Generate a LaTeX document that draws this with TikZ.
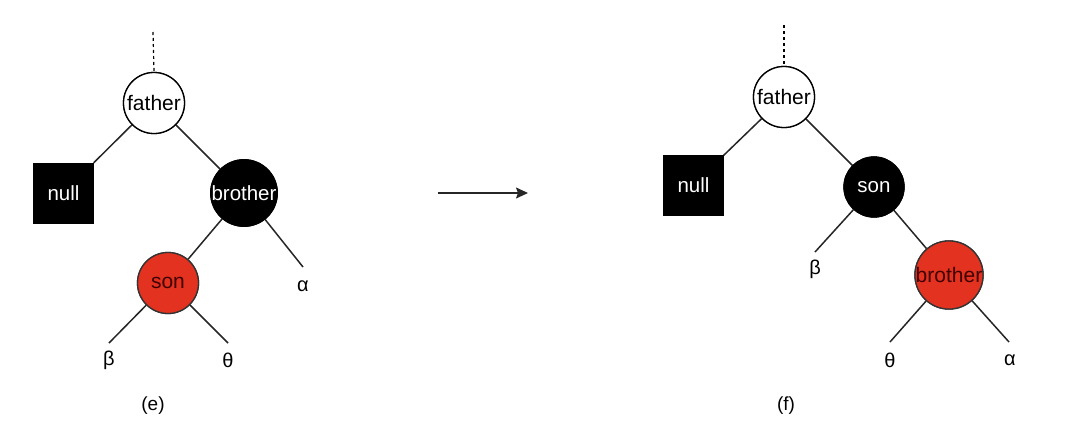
\documentclass[tikz,border=0pt]{standalone}
\usepackage{fontspec}
\setmainfont{Liberation Sans}
\usetikzlibrary{arrows.meta}
\definecolor{rbred}{HTML}{E3321F}
\tikzset{
  edge/.style={line width=1.5pt, draw=black!85},
  wnode/.style={circle, draw=black, line width=1.3pt, fill=white, minimum size=61pt, inner sep=0pt, font=\fontsize{21}{22}\selectfont},
  bnode/.style={circle, draw=black, line width=1.3pt, fill=black, text=white, minimum size=60pt, inner sep=0pt, font=\fontsize{20.5}{22}\selectfont},
  rnode/.style={circle, draw=black!80, line width=1.3pt, fill=rbred, text=black!75!red, minimum size=61pt, inner sep=0pt, font=\fontsize{21}{22}\selectfont},
  nullbox/.style={rectangle, draw=black, fill=black, text=white, minimum size=60pt, inner sep=0pt, font=\fontsize{20.5}{22}\selectfont},
  lbl/.style={inner sep=0pt, font=\fontsize{20}{22}\selectfont},
  caption/.style={inner sep=0pt, font=\fontsize{19}{22}\selectfont},
  dashlink/.style={line width=1.2pt, dash pattern=on 3pt off 3pt}
}
\begin{document}
\begin{tikzpicture}[x=1pt,y=-1pt]
\useasboundingbox (0,0) rectangle (1086,426);
% ---------- left tree (e) ----------
\coordinate (lTop) at (153,32);
\node[wnode] (lf) at (154,103) {father};
\node[nullbox] (ln) at (63.5,193) {null};
\node[bnode] (lb) at (244,193) {brother};
\node[rnode] (ls) at (168,283) {son};
\coordinate (laE) at (303,267);
\coordinate (lbE) at (109,343);
\coordinate (ltE) at (228,343);
\node[lbl] (la) at (303,286) {α};
\node[lbl] (lbeta) at (109,360) {β};
\node[lbl] (ltheta) at (228,360) {θ};
\node[caption] (le) at (153,406) {(e)};
\draw[dashlink] (lTop) -- (lf.north);
\draw[edge] (lf) -- (ln.north east);
\draw[edge] (lf) -- (lb);
\draw[edge] (lb) -- (ls);
\draw[edge] (lb) -- (laE);
\draw[edge] (ls) -- (lbE);
\draw[edge] (ls) -- (ltE);
% ---------- arrow ----------
\coordinate (aS) at (438,193);
\coordinate (aE) at (528,193);
\draw[edge, -{Stealth[length=12pt,width=11pt,inset=2pt]}] (aS) -- (aE);
% ---------- right tree (f) ----------
\coordinate (rTop) at (784,25);
\node[wnode] (rf) at (784,97) {father};
\node[nullbox] (rn) at (693.5,185.5) {null};
\node[bnode] (rs) at (874,187) {son};
\node[rnode] (rb) at (949,275) {brother};
\coordinate (rbetaE) at (815,252);
\coordinate (rtE) at (890,342);
\coordinate (raE) at (1009,342);
\node[lbl] (rbeta) at (815,269) {β};
\node[lbl] (rtheta) at (890,360) {θ};
\node[lbl] (ra) at (1010,360) {α};
\node[caption] (rfc) at (786,406) {(f)};
\draw[dashlink] (rTop) -- (rf.north);
\draw[edge] (rf) -- (rn.north east);
\draw[edge] (rf) -- (rs);
\draw[edge] (rs) -- (rbetaE);
\draw[edge] (rs) -- (rb);
\draw[edge] (rb) -- (rtE);
\draw[edge] (rb) -- (raE);
% redraw nodes over lines
\node[wnode] at (lf) {father};
\node[bnode] at (lb) {brother};
\node[rnode] at (ls) {son};
\node[wnode] at (rf) {father};
\node[bnode] at (rs) {son};
\node[rnode] at (rb) {brother};
\end{tikzpicture}
\end{document}
